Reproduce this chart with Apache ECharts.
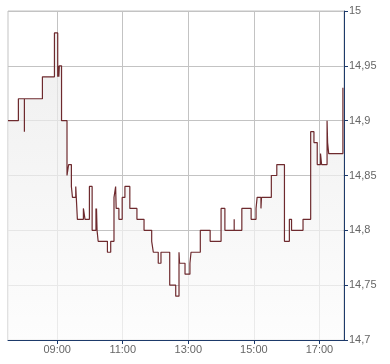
<!DOCTYPE html>
<html>
<head>
<meta charset="utf-8">
<script src="https://cdn.jsdelivr.net/npm/echarts@6/dist/echarts.min.js"></script>
<style>
html,body{margin:0;padding:0;background:#fff;}
#chart{width:390px;height:364px;}
</style>
</head>
<body>
<div id="chart"></div>
<script>
// Trade times (HH:MM) and prices
var times = [
  "07:30","07:49","08:00","08:00","08:33","08:55","09:01","09:02","09:03","09:04",
  "09:08","09:18","09:21","09:26","09:28","09:34","09:37","09:48","09:51","09:59",
  "10:04","10:11","10:11","10:12","10:13","10:15","10:32","10:38","10:44","10:47",
  "10:48","10:53","10:59","11:04","11:13","11:26","11:39","11:53","11:56","12:05",
  "12:10","12:26","12:37","12:43","12:44","12:54","13:03","13:05","13:22","13:40",
  "14:00","14:07","14:24","14:24","14:38","14:55","15:04","15:06","15:13","15:14",
  "15:32","15:42","15:56","16:05","16:09","16:30","16:44","16:50","16:56","17:02",
  "17:04","17:14","17:15","17:17","17:43"
];
var prices = [
  14.90,14.92,14.89,14.92,14.94,14.98,14.94,14.95,14.94,14.95,
  14.90,14.85,14.86,14.84,14.83,14.84,14.81,14.82,14.81,14.84,
  14.80,14.82,14.80,14.82,14.80,14.79,14.78,14.79,14.83,14.84,
  14.82,14.81,14.83,14.84,14.82,14.81,14.80,14.79,14.78,14.77,
  14.78,14.75,14.74,14.78,14.77,14.76,14.77,14.78,14.80,14.79,
  14.82,14.80,14.81,14.80,14.82,14.81,14.82,14.83,14.82,14.83,
  14.85,14.86,14.79,14.81,14.80,14.81,14.89,14.88,14.86,14.87,
  14.86,14.90,14.88,14.87,14.93
];
var xTickHours = [9, 11, 13, 15, 17];
var sessionStart = "07:30";
var sessionEnd = "17:45";
var yMin = 14.7, yMax = 15, yStep = 0.05;

function toHours(s){ var p = s.split(":"); return +p[0] + (+p[1]) / 60; }
var seriesData = times.map(function(t, i){ return [toHours(t), prices[i]]; });

var navy = '#1d3a6a';
var gridGray = '#c3c3c3';
var labelGray = '#666666';

var chart = echarts.init(document.getElementById('chart'));
chart.setOption({
  animation: false,
  backgroundColor: '#ffffff',
  grid: { left: 8, top: 11, right: 46, bottom: 24, show: true, borderColor: gridGray, borderWidth: 1, backgroundColor: 'transparent' },
  xAxis: {
    type: 'value',
    min: toHours(sessionStart),
    max: toHours(sessionEnd),
    axisLine: { show: true, lineStyle: { color: navy, width: 1 } },
    axisTick: { show: true, length: 4, customValues: xTickHours, lineStyle: { color: navy } },
    axisLabel: {
      show: true, customValues: xTickHours, margin: 4,
      color: labelGray, fontFamily: 'Liberation Sans, Arial, sans-serif', fontSize: 11,
      formatter: function(v){ var h = Math.round(v); return (h < 10 ? '0' : '') + h + ':00'; }
    },
    splitLine: { show: true, lineStyle: { color: gridGray, width: 1 } }
  },
  yAxis: {
    type: 'value',
    position: 'right',
    min: yMin, max: yMax, interval: yStep,
    axisLine: { show: true, lineStyle: { color: navy, width: 1 } },
    axisTick: { show: true, length: 4, lineStyle: { color: navy } },
    axisLabel: {
      margin: 5, color: labelGray, fontFamily: 'Liberation Sans, Arial, sans-serif', fontSize: 11,
      formatter: function(v){ return String(+v.toFixed(2)).replace('.', ','); }
    },
    splitLine: { show: true, lineStyle: { color: gridGray, width: 1 } }
  },
  series: [{
    type: 'line',
    step: 'end',
    data: seriesData,
    showSymbol: false,
    symbol: 'none',
    lineStyle: { color: '#6e2a2e', width: 1.2 },
    areaStyle: {
      origin: 'start',
      color: new echarts.graphic.LinearGradient(0, 0, 0, 1, [
        { offset: 0, color: '#e8e8e8' },
        { offset: 1, color: '#fcfcfc' }
      ])
    }
  }]
});
</script>
</body>
</html>
